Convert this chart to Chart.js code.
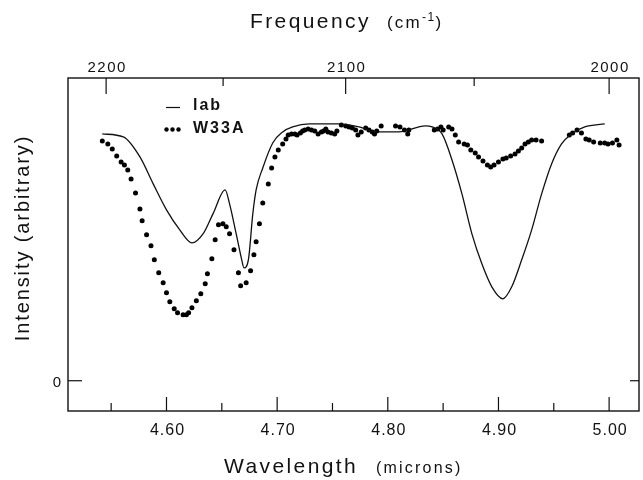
<!DOCTYPE html>
<html>
<head>
<meta charset="utf-8">
<script src="https://cdn.jsdelivr.net/npm/chart.js@4/dist/chart.umd.min.js"></script>
<style>
  html, body { margin: 0; padding: 0; background: #ffffff; }
  #wrap { width: 643px; height: 480px; position: relative; }
</style>
</head>
<body>
<div id="wrap"><canvas id="c" width="643" height="480"></canvas></div>
<script>
// ---- Data ----
const labWavelength = [4.542, 4.561, 4.576, 4.588, 4.600, 4.612, 4.623, 4.633, 4.642, 4.653,
  4.657, 4.663, 4.668, 4.670, 4.674, 4.678, 4.681, 4.687, 4.696, 4.705,
  4.714, 4.729, 4.756, 4.774, 4.789, 4.810, 4.834, 4.840, 4.849, 4.858,
  4.867, 4.876, 4.885, 4.894, 4.904, 4.912, 4.921, 4.930, 4.939, 4.948,
  4.957, 4.966, 4.978, 4.996];
const labIntensity = [2.47, 2.44, 2.24, 1.97, 1.71, 1.51, 1.38, 1.47, 1.67, 1.91,
  1.77, 1.47, 1.21, 1.13, 1.21, 1.67, 1.91, 2.13, 2.38, 2.49,
  2.54, 2.57, 2.57, 2.54, 2.49, 2.49, 2.55, 2.54, 2.47, 2.21,
  1.87, 1.47, 1.17, 0.94, 0.82, 0.94, 1.21, 1.51, 1.87, 2.17,
  2.37, 2.47, 2.54, 2.57];

const w33aWavelength = [4.542,4.547,4.551,4.555,4.559,4.562,4.565,4.568,4.572,4.576,
  4.578,4.582,4.586,4.589,4.593,4.597,4.600,4.603,4.607,4.610,
  4.615,4.618,4.620,4.623,4.627,4.631,4.635,4.637,4.641,4.644,
  4.647,4.651,4.654,4.657,4.661,4.665,4.667,4.672,4.676,4.679,
  4.681,4.684,4.687,4.692,4.695,4.698,4.701,4.705,4.708,4.710,
  4.713,4.716,4.718,4.721,4.723,4.725,4.728,4.731,4.734,4.737,
  4.740,4.742,4.744,4.746,4.749,4.752,4.754,4.758,4.762,4.765,
  4.768,4.771,4.773,4.776,4.780,4.783,4.786,4.788,4.790,4.794,
  4.807,4.811,4.815,4.818,4.819,4.842,4.845,4.848,4.850,4.855,
  4.858,4.861,4.864,4.869,4.872,4.875,4.879,4.882,4.886,4.890,
  4.893,4.896,4.900,4.904,4.907,4.911,4.915,4.918,4.921,4.924,
  4.927,4.930,4.934,4.939,4.964,4.967,4.971,4.975,4.979,4.982,
  4.986,4.992,4.996,4.999,5.003,5.007,5.009];
const w33aIntensity = [2.40,2.37,2.32,2.25,2.19,2.16,2.11,2.02,1.88,1.72,
  1.60,1.46,1.35,1.21,1.08,0.98,0.88,0.79,0.72,0.68,
  0.66,0.66,0.68,0.73,0.80,0.87,0.97,1.07,1.22,1.41,
  1.56,1.57,1.54,1.47,1.31,1.08,0.95,0.98,1.10,1.26,
  1.39,1.57,1.78,1.97,2.13,2.24,2.31,2.37,2.42,2.46,
  2.47,2.47,2.46,2.48,2.50,2.51,2.52,2.51,2.50,2.47,
  2.49,2.50,2.52,2.49,2.48,2.47,2.50,2.56,2.55,2.54,
  2.53,2.51,2.46,2.49,2.53,2.51,2.49,2.47,2.50,2.55,
  2.55,2.54,2.51,2.47,2.51,2.51,2.52,2.54,2.51,2.54,
  2.52,2.46,2.39,2.37,2.36,2.31,2.28,2.24,2.20,2.16,
  2.14,2.16,2.19,2.22,2.23,2.25,2.27,2.30,2.33,2.37,
  2.39,2.41,2.41,2.40,2.46,2.48,2.51,2.48,2.42,2.41,
  2.39,2.38,2.38,2.37,2.38,2.41,2.36];

// ---- Tick labels ----
const wavelengthTicks = [4.60, 4.70, 4.80, 4.90, 5.00];
const wavelengthMinorTicks = [4.55, 4.65, 4.75, 4.85, 4.95];
const frequencyTicks = [2200, 2100, 2000];
const frequencyMinorTicks = [2150, 2050];
const intensityTicks = [0];
const seriesNames = ['lab', 'W33A'];

const labPoints = labWavelength.map((x, i) => ({ x: x, y: labIntensity[i] }));
const w33aPoints = w33aWavelength.map((x, i) => ({ x: x, y: w33aIntensity[i] }));

const FONT = '"Liberation Sans", Arial, Helvetica, sans-serif';

function txt(ctx, s, x, y, size, opts) {
  opts = opts || {};
  ctx.save();
  ctx.font = (opts.bold ? 'bold ' : '') + size + 'px ' + FONT;
  ctx.letterSpacing = (opts.spacing || 0) + 'px';
  ctx.textAlign = opts.align || 'left';
  ctx.textBaseline = opts.baseline || 'alphabetic';
  ctx.fillStyle = '#111';
  ctx.fillText(s, x, y);
  const w = ctx.measureText(s).width;
  ctx.restore();
  return w;
}

const framePlugin = {
  id: 'frame',
  afterDraw(chart) {
    const ctx = chart.ctx;
    const a = chart.chartArea;
    const xs = chart.scales.x;
    const ys = chart.scales.y;
    ctx.save();
    ctx.strokeStyle = '#111';
    ctx.lineWidth = 1.4;
    ctx.strokeRect(a.left, a.top, a.right - a.left, a.bottom - a.top);

    ctx.lineWidth = 1.2;
    // bottom ticks (inward)
    wavelengthTicks.forEach(v => {
      const px = xs.getPixelForValue(v);
      ctx.beginPath(); ctx.moveTo(px, a.bottom); ctx.lineTo(px, a.bottom - 14); ctx.stroke();
      txt(ctx, v.toFixed(2), px + 1, a.bottom + 24, 16, { align: 'center', spacing: 1 });
    });
    wavelengthMinorTicks.forEach(v => {
      const px = xs.getPixelForValue(v);
      ctx.beginPath(); ctx.moveTo(px, a.bottom); ctx.lineTo(px, a.bottom - 8); ctx.stroke();
    });
    // top ticks: frequency (cm-1) -> wavelength (microns)
    frequencyTicks.forEach(f => {
      const px = xs.getPixelForValue(10000 / f);
      ctx.beginPath(); ctx.moveTo(px, a.top); ctx.lineTo(px, a.top + 16); ctx.stroke();
      txt(ctx, String(f), px + 1, a.top - 6, 15, { align: 'center', spacing: 1.5 });
    });
    frequencyMinorTicks.forEach(f => {
      const px = xs.getPixelForValue(10000 / f);
      ctx.beginPath(); ctx.moveTo(px, a.top); ctx.lineTo(px, a.top + 8); ctx.stroke();
    });
    // y ticks
    intensityTicks.forEach(v => {
      const py = ys.getPixelForValue(v);
      ctx.beginPath(); ctx.moveTo(a.left, py); ctx.lineTo(a.left + 14, py); ctx.stroke();
      ctx.beginPath(); ctx.moveTo(a.right, py); ctx.lineTo(a.right - 9, py); ctx.stroke();
      txt(ctx, String(v), a.left - 7, py + 6, 15, { align: 'right' });
    });

    // titles
    txt(ctx, 'Wavelength', 224, 473, 21, { spacing: 2.4 });
    txt(ctx, '(microns)', 376, 473, 16, { spacing: 2.2 });
    txt(ctx, 'Frequency', 250, 28, 21, { spacing: 2.4 });
    let cx = 387;
    cx += txt(ctx, '(cm', cx, 28, 17, { spacing: 2.2 });
    cx += txt(ctx, '-1', cx, 21, 12, { spacing: 1.5 });
    txt(ctx, ')', cx, 28, 17, { spacing: 2 });

    ctx.save();
    ctx.translate(29, 238);
    ctx.rotate(-Math.PI / 2);
    txt(ctx, 'Intensity (arbitrary)', 0, 0, 20, { align: 'center', spacing: 1.9 });
    ctx.restore();

    // legend
    ctx.lineWidth = 1.2;
    ctx.beginPath(); ctx.moveTo(166, 107.5); ctx.lineTo(180, 107.5); ctx.stroke();
    txt(ctx, seriesNames[0], 193, 110, 16, { bold: true, spacing: 2 });
    ctx.fillStyle = '#000';
    [166.5, 172.5, 178.5].forEach(dx => {
      ctx.beginPath(); ctx.arc(dx, 129.5, 2.2, 0, Math.PI * 2); ctx.fill();
    });
    txt(ctx, seriesNames[1], 193, 133, 16, { bold: true, spacing: 2 });
    ctx.restore();
  }
};

new Chart(document.getElementById('c'), {
  type: 'line',
  data: {
    datasets: [
      {
        label: seriesNames[0],
        data: labPoints,
        borderColor: '#111',
        borderWidth: 1.3,
        pointRadius: 0,
        fill: false,
        cubicInterpolationMode: 'monotone'
      },
      {
        label: seriesNames[1],
        data: w33aPoints,
        showLine: false,
        pointRadius: 2.5,
        pointBorderWidth: 0,
        pointBackgroundColor: '#000',
        pointBorderColor: '#000'
      }
    ]
  },
  options: {
    responsive: false,
    animation: false,
    events: [],
    layout: { padding: { left: 68, right: 2, top: 78, bottom: 69 } },
    plugins: { legend: { display: false }, tooltip: { enabled: false }, title: { display: false } },
    scales: {
      x: { type: 'linear', min: 4.511, max: 5.027, display: false },
      y: { type: 'linear', min: -0.303, max: 3.03, display: false }
    }
  },
  plugins: [framePlugin]
});
</script>
</body>
</html>
